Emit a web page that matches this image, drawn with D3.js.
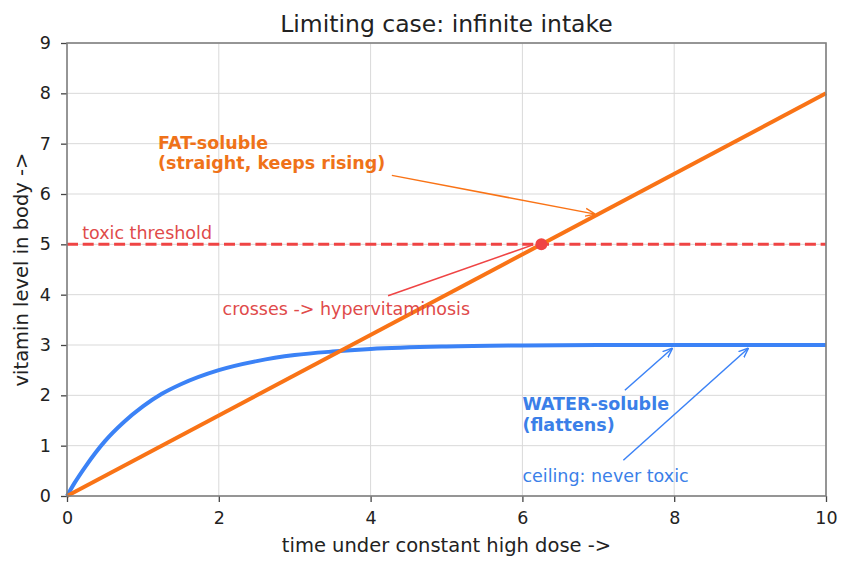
<!DOCTYPE html>
<html>
<head>
<meta charset="utf-8">
<script src="https://cdn.jsdelivr.net/npm/d3@7"></script>
<style>
  body { margin: 0; background: #fff; }
  text { font-family: "DejaVu Sans", sans-serif; }
</style>
</head>
<body>
<div id="chart"></div>
<script>
let margin = {top: 43, right: 26, bottom: 73, left: 67}
let width = 852 - margin.left - margin.right;
let height = 569 - margin.top - margin.bottom;

// values
const xTicks = [0, 2, 4, 6, 8, 10]
const yTicks = [0, 1, 2, 3, 4, 5, 6, 7, 8, 9]
const waterT = [0, 0.1, 0.25, 0.5, 0.75, 1, 1.25, 1.5, 2, 2.5, 3, 3.5, 4, 5, 6, 7, 8, 9, 10]
const waterY = [0, 0.26, 0.6, 1.09, 1.47, 1.78, 2.03, 2.22, 2.5, 2.68, 2.8, 2.87, 2.92, 2.97, 2.99, 3.0, 3.0, 3.0, 3.0]
const fatT = [0, 10]
const fatY = [0, 8]
const threshold = 5
const crossPoint = [6.25, 5]

const blue = '#3b82f6', orange = '#f97316', red = '#ef4444'

let svg = d3.select('#chart').append('svg')
    .attr('width', 852)
    .attr('height', 569)

let chart = svg.append('g')
    .attr('transform', 'translate(' + margin.left + ',' + margin.top + ')')

let x = d3.scaleLinear().domain([0, 10]).range([0, width])
let y = d3.scaleLinear().domain([0, 9]).range([height, 0])

// grid
chart.append('g').selectAll('line')
    .data(xTicks).enter().append('line')
    .attr('x1', d => x(d)).attr('x2', d => x(d))
    .attr('y1', 0).attr('y2', height)
    .attr('stroke', '#d9d9d9').attr('stroke-width', 1)
chart.append('g').selectAll('line')
    .data(yTicks).enter().append('line')
    .attr('y1', d => y(d)).attr('y2', d => y(d))
    .attr('x1', 0).attr('x2', width)
    .attr('stroke', '#d9d9d9').attr('stroke-width', 1)

// threshold
chart.append('line')
    .attr('x1', 0).attr('x2', width)
    .attr('y1', y(threshold)).attr('y2', y(threshold))
    .attr('stroke', red).attr('stroke-width', 3)
    .attr('stroke-dasharray', '11,4.7')

let line = d3.line().x(d => x(d[0])).y(d => y(d[1]))

chart.append('path')
    .datum(waterT.map((t, i) => [t, waterY[i]]))
    .attr('d', line.curve(d3.curveMonotoneX))
    .attr('fill', 'none').attr('stroke', blue).attr('stroke-width', 4)

chart.append('path')
    .datum(fatT.map((t, i) => [t, fatY[i]]))
    .attr('d', d3.line().x(d => x(d[0])).y(d => y(d[1])))
    .attr('fill', 'none').attr('stroke', orange).attr('stroke-width', 4)

chart.append('circle')
    .attr('cx', x(crossPoint[0])).attr('cy', y(crossPoint[1]))
    .attr('r', 6).attr('fill', red)

// arrows
let defs = svg.append('defs')
function marker(id, color) {
    defs.append('marker')
        .attr('id', id)
        .attr('viewBox', '0 0 10 10')
        .attr('refX', 10).attr('refY', 5)
        .attr('markerWidth', 10).attr('markerHeight', 10)
        .attr('markerUnits', 'userSpaceOnUse')
        .attr('orient', 'auto')
        .append('path')
        .attr('d', 'M0,1 L10,5 L0,9')
        .attr('fill', 'none').attr('stroke', color).attr('stroke-width', 1.4)
}
marker('arrOrange', orange)
marker('arrBlue', blue)

function arrow(x1, y1, x2, y2, color, m) {
    let a = chart.append('line')
        .attr('x1', x(x1)).attr('y1', y(y1))
        .attr('x2', x(x2)).attr('y2', y(y2))
        .attr('stroke', color).attr('stroke-width', 1.5)
    if (m) a.attr('marker-end', 'url(#' + m + ')')
}
arrow(4.28, 6.37, 6.96, 5.6, orange, 'arrOrange')
arrow(4.23, 3.98, 6.14, 4.99, red, null)
arrow(7.35, 2.1, 7.98, 2.94, blue, 'arrBlue')
arrow(7.33, 0.71, 8.98, 2.94, blue, 'arrBlue')

// annotation text
function label(tx, ty, lines, color, bold) {
    let t = chart.append('text')
        .attr('x', x(tx)).attr('y', y(ty))
        .attr('fill', color)
        .attr('font-size', '17.5px')
        .attr('font-weight', bold ? 'bold' : 'normal')
    lines.forEach((s, i) => {
        t.append('tspan').attr('x', x(tx)).attr('dy', i == 0 ? 0 : 20.5).text(s)
    })
}
label(1.2, 6.9, ['FAT-soluble', '(straight, keeps rising)'], '#ef7219', true)
label(0.2, 5.1, ['toxic threshold'], '#e04a4a', false)
label(2.05, 3.6, ['crosses -> hypervitaminosis'], '#e04a4a', false)
label(6.0, 1.7, ['WATER-soluble', '(flattens)'], '#3b7fe8', true)
label(6.0, 0.28, ['ceiling: never toxic'], '#3b7fe8', false)

// axes
let xAxis = chart.append('g')
    .attr('transform', 'translate(0,' + height + ')')
    .call(d3.axisBottom(x).tickValues(xTicks).tickSize(6).tickPadding(10))
let yAxis = chart.append('g')
    .call(d3.axisLeft(y).tickValues(yTicks).tickSize(6).tickPadding(10))
;[xAxis, yAxis].forEach(g => {
    g.select('.domain').remove()
    g.selectAll('line').attr('stroke', '#444').attr('stroke-width', 1.3)
    g.selectAll('text').attr('font-size', '17.5px').attr('fill', '#222')
        .style('font-family', '"DejaVu Sans", sans-serif')
})

chart.append('rect')
    .attr('width', width).attr('height', height)
    .attr('fill', 'none').attr('stroke', '#808080').attr('stroke-width', 1.6)

// titles
svg.append('text')
    .attr('x', margin.left + width / 2).attr('y', 32)
    .attr('text-anchor', 'middle').attr('font-size', '23.5px').attr('fill', '#222')
    .text('Limiting case: infinite intake')
svg.append('text')
    .attr('x', margin.left + width / 2).attr('y', 552)
    .attr('text-anchor', 'middle').attr('font-size', '19.5px').attr('fill', '#222')
    .text('time under constant high dose ->')
svg.append('text')
    .attr('transform', 'translate(28,' + (margin.top + height / 2) + ') rotate(-90)')
    .attr('text-anchor', 'middle').attr('font-size', '19.5px').attr('fill', '#222')
    .text('vitamin level in body ->')
</script>
</body>
</html>
